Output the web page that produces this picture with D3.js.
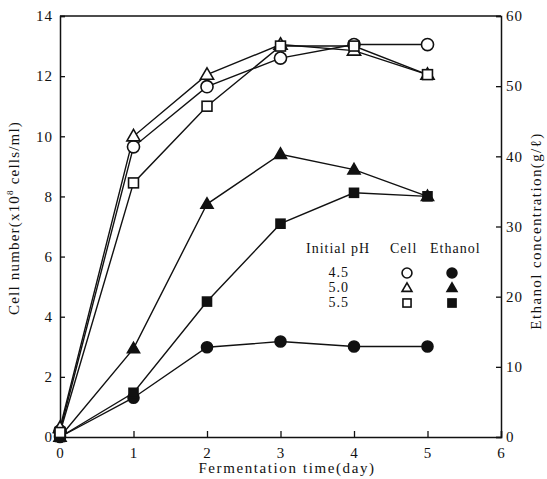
<!DOCTYPE html>
<html>
<head>
<meta charset="utf-8">
<script src="https://cdn.jsdelivr.net/npm/d3@7"></script>
<style>
  body { margin: 0; background: #fff; }
  text { font-family: "Liberation Serif", "DejaVu Serif", serif; fill: #111; }
</style>
</head>
<body>
<div id="chart"></div>
<script>
// days on the x axis
var days = [0, 1, 2, 3, 4, 5];

// cell number (x10^8 cells/ml), open symbols, left axis
var cell45 = [0.2, 9.65, 11.65, 12.6, 13.05, 13.05];
var cell50 = [0.3, 10.0, 12.05, 13.05, 12.85, 12.05];
var cell55 = [0.15, 8.45, 11.0, 13.0, 13.0, 12.05];

// ethanol concentration (g/l), filled symbols, right axis
var eth45 = [0, 5.6, 12.8, 13.6, 12.9, 12.9];
var eth50 = [0, 12.6, 33.2, 40.3, 38.1, 34.3];
var eth55 = [0, 6.3, 19.3, 30.4, 34.8, 34.3];

var pHs = ["4.5", "5.0", "5.5"];
var shapes = ["circle", "triangle", "square"];

var xTicks = [0, 1, 2, 3, 4, 5, 6];
var yLeftTicks = [0, 2, 4, 6, 8, 10, 12, 14];
var yRightTicks = [0, 10, 20, 30, 40, 50, 60];

function init() {
  var W = 547, H = 479;
  var left = 60, right = 501, top = 16, bottom = 437;

  var svg = d3.select("#chart").append("svg")
    .attr("width", W).attr("height", H);

  var x = d3.scaleLinear().domain([0, 6]).range([left, right]);
  var yL = d3.scaleLinear().domain([0, 14]).range([bottom, top]);
  var yR = d3.scaleLinear().domain([0, 60]).range([bottom, top]);

  // frame top line
  svg.append("line")
    .attr("x1", left).attr("x2", right).attr("y1", top).attr("y2", top)
    .attr("stroke", "#111").attr("stroke-width", 1.3);

  // axes, ticks pointing inward
  var gx = svg.append("g").attr("transform", "translate(0," + bottom + ")")
    .call(d3.axisBottom(x).tickValues(xTicks).tickSize(-6).tickPadding(10).tickFormat(d3.format("d")));
  var gl = svg.append("g").attr("transform", "translate(" + left + ",0)")
    .call(d3.axisLeft(yL).tickValues(yLeftTicks).tickSize(-5).tickPadding(7).tickFormat(d3.format("d")));
  var gr = svg.append("g").attr("transform", "translate(" + right + ",0)")
    .call(d3.axisRight(yR).tickValues(yRightTicks).tickSize(-5).tickPadding(5).tickFormat(d3.format("d")));

  [gx, gl, gr].forEach(function(g) {
    g.select(".domain").attr("stroke", "#111").attr("stroke-width", 1.5);
    g.selectAll(".tick line").attr("stroke", "#111").attr("stroke-width", 1.3);
    g.selectAll(".tick text").style("font-size", "15px").style("letter-spacing", "1px")
      .style("font-family", "'Liberation Serif', 'DejaVu Serif', serif").attr("fill", "#111");
  });

  // axis titles
  svg.append("text")
    .attr("x", 287).attr("y", 473).attr("text-anchor", "middle")
    .style("font-size", "15px").style("letter-spacing", "1.6px")
    .text("Fermentation time(day)");

  svg.append("text")
    .attr("transform", "translate(19,218) rotate(-90)")
    .attr("text-anchor", "middle")
    .style("font-size", "15px").style("letter-spacing", "1.2px")
    .html("Cell number(x10<tspan dy='-6' style='font-size:9px'>8</tspan><tspan dy='6'> cells/ml)</tspan>");

  svg.append("text")
    .attr("transform", "translate(541,231) rotate(-90)")
    .attr("text-anchor", "middle")
    .style("font-size", "15px").style("letter-spacing", "1.4px")
    .text("Ethanol concentration(g/ℓ)");

  // marker drawing
  function drawMarker(g, shape, cx, cy, filled, s) {
    var fill = filled ? "#111" : "#fff";
    if (shape == "circle") {
      g.append("circle").attr("cx", cx).attr("cy", cy).attr("r", s * 0.55)
        .attr("fill", fill).attr("stroke", "#111").attr("stroke-width", 1.6);
    } else if (shape == "triangle") {
      var h = s * 0.95;
      g.append("path")
        .attr("d", "M" + cx + "," + (cy - h * 0.6) + "L" + (cx + s * 0.55) + "," + (cy + h * 0.4) +
          "L" + (cx - s * 0.55) + "," + (cy + h * 0.4) + "Z")
        .attr("fill", fill).attr("stroke", "#111").attr("stroke-width", 1.6);
    } else {
      g.append("rect").attr("x", cx - s * 0.45).attr("y", cy - s * 0.45)
        .attr("width", s * 0.9).attr("height", s * 0.9)
        .attr("fill", fill).attr("stroke", "#111").attr("stroke-width", 1.6);
    }
  }

  var line = function(scale) {
    return d3.line().x(function(d, i) { return x(days[i]); }).y(function(d) { return scale(d); });
  };

  var ethSeries = [eth45, eth50, eth55];
  var cellSeries = [cell45, cell50, cell55];

  var plot = svg.append("g");

  // lines first
  ethSeries.forEach(function(s) {
    plot.append("path").datum(s).attr("d", line(yR))
      .attr("fill", "none").attr("stroke", "#111").attr("stroke-width", 1.4);
  });
  cellSeries.forEach(function(s) {
    plot.append("path").datum(s).attr("d", line(yL))
      .attr("fill", "none").attr("stroke", "#111").attr("stroke-width", 1.4);
  });

  // then markers
  ethSeries.forEach(function(s, k) {
    s.forEach(function(v, i) {
      drawMarker(plot, shapes[k], x(days[i]), yR(v), true, k == 1 ? 11 : 10);
    });
  });
  cellSeries.forEach(function(s, k) {
    s.forEach(function(v, i) {
      drawMarker(plot, shapes[k], x(days[i]), yL(v), false, k == 1 ? 12 : 11);
    });
  });

  // legend
  var lg = svg.append("g").style("font-size", "14px").style("letter-spacing", "1px");
  lg.append("text").attr("x", 306).attr("y", 253).text("Initial pH");
  lg.append("text").attr("x", 390).attr("y", 253).text("Cell");
  lg.append("text").attr("x", 430).attr("y", 253).text("Ethanol");
  pHs.forEach(function(p, i) {
    var yy = 273 + i * 15;
    lg.append("text").attr("x", 349).attr("y", yy + 4).attr("text-anchor", "end").text(p);
    drawMarker(lg, shapes[i], 407, yy, false, 9);
    drawMarker(lg, shapes[i], 452, yy, true, 9);
  });
}
window.onload = init;
</script>
</body>
</html>
